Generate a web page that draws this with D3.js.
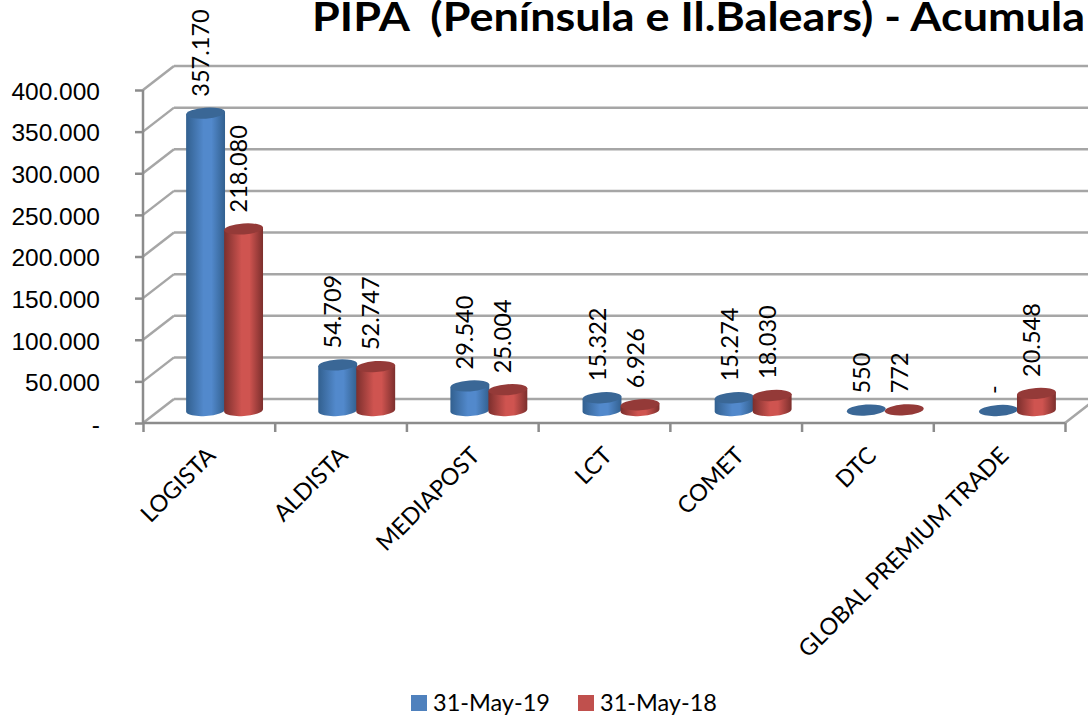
<!DOCTYPE html>
<html>
<head>
<meta charset="utf-8">
<script src="https://cdn.jsdelivr.net/npm/d3@7"></script>
<style>
    html, body { margin: 0; padding: 0; background: #fff; overflow: hidden; }
    svg { display: block; font-family: Lato, "Noto Sans", sans-serif; }
</style>
</head>
<body>
<svg></svg>
<script>
const categories = ['LOGISTA', 'ALDISTA', 'MEDIAPOST', 'LCT', 'COMET', 'DTC', 'GLOBAL PREMIUM TRADE'];
const seriesNames = ['31-May-19', '31-May-18'];
const values2019 = [357170, 54709, 29540, 15322, 15274, 550, 0];
const values2018 = [218080, 52747, 25004, 6926, 18030, 772, 20548];
const yTicks = [0, 50000, 100000, 150000, 200000, 250000, 300000, 350000, 400000];

const width = 1088;
const height = 717;
const left = 143;
const right = 1065;
const bottom = 423;
const top_ = 90;

// wall offset of the fake 3d box
const depthX = 31;
const depthY = -24;

const rx = 19.5;
const ry = 5.5;
const tilt = 4;

const colors = [
    { edge: '#32608f', mid: '#5289cc', cap: '#3a6796' },
    { edge: '#7c2f2d', mid: '#cf5450', cap: '#943a38' }
];

const fmt = (v) => v === 0 ? '-' : d3.format(',')(v).replace(/,/g, '.');

const svg = d3.select('svg').attr('width', width).attr('height', height);

const yScale = d3.scaleLinear().domain([0, 400000]).range([bottom, top_]);
const xBand = d3.scaleBand().domain(categories).range([left, right + 3]);
const xEdge = d3.scaleLinear().domain([0, categories.length]).range([left, right]);
const seriesScale = d3.scaleBand().domain(seriesNames).range([-38, 38]);

const defs = svg.append('defs');
colors.forEach((c, i) => {
    let g = defs.append('linearGradient').attr('id', 'cyl' + i);
    g.append('stop').attr('offset', '0%').attr('stop-color', c.edge);
    g.append('stop').attr('offset', '45%').attr('stop-color', c.mid);
    g.append('stop').attr('offset', '65%').attr('stop-color', c.mid);
    g.append('stop').attr('offset', '100%').attr('stop-color', c.edge);
});

// title, only the part the original shows
svg.append('text')
    .attr('x', 312)
    .attr('y', 31)
    .attr('font-size', 39.5)
    .attr('font-weight', 700)
    .attr('textLength', 773)
    .attr('lengthAdjust', 'spacingAndGlyphs')
    .style('white-space', 'pre')
    .text('PIPA  (Península e Il.Balears) - Acumula');

// walls
const grid = svg.append('g').attr('stroke', '#a6a6a6').attr('stroke-width', 2.5).attr('fill', 'none');
grid.selectAll('.back')
    .data(yTicks)
    .enter()
    .append('line')
    .attr('class', 'back')
    .attr('x1', left + depthX)
    .attr('x2', width + 5)
    .attr('y1', (d) => yScale(d) + depthY)
    .attr('y2', (d) => yScale(d) + depthY);
grid.selectAll('.side')
    .data(yTicks)
    .enter()
    .append('line')
    .attr('class', 'side')
    .attr('x1', left)
    .attr('x2', left + depthX)
    .attr('y1', (d) => yScale(d))
    .attr('y2', (d) => yScale(d) + depthY);
grid.append('line')
    .attr('x1', right)
    .attr('x2', right + depthX)
    .attr('y1', bottom)
    .attr('y2', bottom + depthY);

// axes
const yAxis = d3.axisLeft(yScale).tickValues(yTicks).tickSize(8).tickPadding(35).tickFormat(fmt);
const xAxis = d3.axisBottom(xEdge).tickValues(d3.range(categories.length + 1)).tickSize(9).tickFormat('');

const yG = svg.append('g').attr('transform', 'translate(' + left + ',0)').call(yAxis);
const xG = svg.append('g').attr('transform', 'translate(0,' + bottom + ')').call(xAxis);
[yG, xG].forEach((g) => {
    g.selectAll('path, line').attr('stroke', '#8c8c8c').attr('stroke-width', 2.5);
    g.select('.domain').attr('d', g === yG ? 'M0,' + top_ + 'V' + bottom : 'M' + left + ',0H' + right);
});
yG.selectAll('text').attr('font-size', 24.5).attr('fill', '#000').attr('dy', '0.38em');

// flatten to one row per bar
const bars = [];
categories.forEach((cat, i) => {
    bars.push({ cat: cat, series: 0, value: values2019[i] });
    bars.push({ cat: cat, series: 1, value: values2018[i] });
});

const barX = (d) => xBand(d.cat) + xBand.bandwidth() / 2 + 15.5 + seriesScale(seriesNames[d.series]) + seriesScale.bandwidth() / 2;
const baseY = yScale(0) - 12.5;
const barTop = (d) => baseY - (yScale(0) - yScale(d.value));

const sx = rx * Math.cos(tilt * Math.PI / 180);
const sy = rx * Math.sin(tilt * Math.PI / 180);

const barG = svg.append('g')
    .selectAll('g')
    .data(bars)
    .enter()
    .append('g');

barG.filter((d) => d.value > 2000)
    .append('path')
    .attr('fill', (d) => 'url(#cyl' + d.series + ')')
    .attr('d', (d) => {
        let x = barX(d);
        let t = barTop(d);
        return 'M' + (x - sx) + ',' + (t + sy)
            + 'L' + (x - sx) + ',' + (baseY + sy)
            + 'A' + rx + ',' + ry + ' ' + (-tilt) + ' 0 0 ' + (x + sx) + ',' + (baseY - sy)
            + 'L' + (x + sx) + ',' + (t - sy) + 'Z';
    });

barG.append('ellipse')
    .attr('rx', rx)
    .attr('ry', ry)
    .attr('fill', (d) => colors[d.series].cap)
    .attr('transform', (d) => 'translate(' + barX(d) + ',' + barTop(d) + ') rotate(' + (-tilt) + ')');

// value labels
svg.append('g')
    .selectAll('text')
    .data(bars)
    .enter()
    .append('text')
    .attr('font-size', 23.5)
    .attr('text-anchor', 'start')
    .attr('transform', (d) => 'translate(' + (barX(d) + 3.5) + ',' + (barTop(d) - 16.5) + ') rotate(-90)')
    .text((d) => fmt(d.value));

// category labels
svg.append('g')
    .selectAll('text')
    .data(categories)
    .enter()
    .append('text')
    .attr('font-size', 23.4)
    .attr('text-anchor', 'end')
    .attr('transform', (d) => 'translate(' + (xBand(d) + xBand.bandwidth() / 2 + 8) + ',457) rotate(-45)')
    .text((d) => d);

// legend
const legendX = [411, 578];
const legend = svg.append('g')
    .selectAll('g')
    .data(seriesNames)
    .enter()
    .append('g')
    .attr('transform', (d, i) => 'translate(' + legendX[i] + ',695)');
legend.append('rect')
    .attr('width', 16)
    .attr('height', 16)
    .attr('fill', (d, i) => ['#4f81bd', '#c0504d'][i]);
legend.append('text')
    .attr('x', 22)
    .attr('y', 16)
    .attr('font-size', 23.5)
    .text((d) => d);
</script>
</body>
</html>
